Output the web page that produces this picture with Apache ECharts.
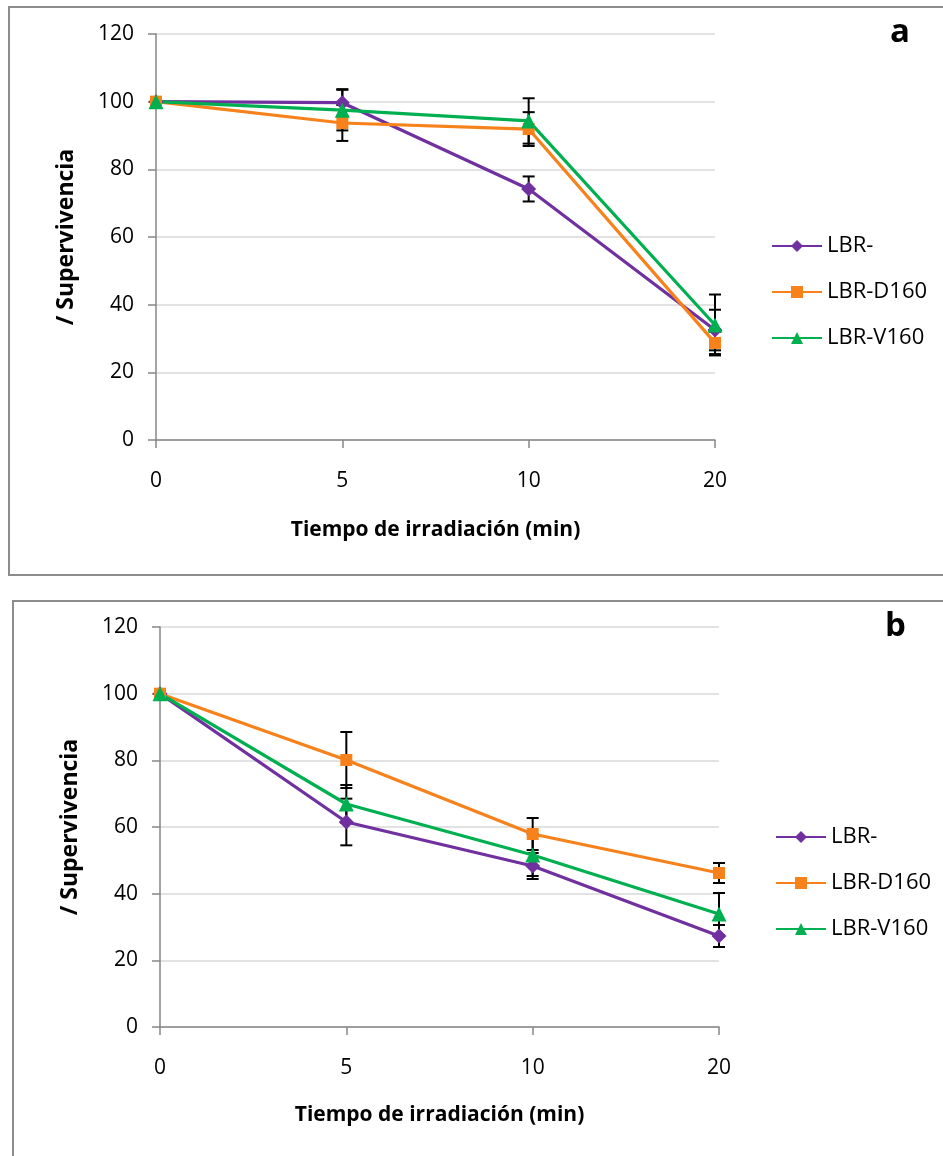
<!DOCTYPE html>
<html><head><meta charset="utf-8">
<script src="https://cdn.jsdelivr.net/npm/echarts@6/dist/echarts.min.js"></script>
<style>html,body{margin:0;padding:0;background:#fff}#c{width:943px;height:1156px}</style>
</head><body><div id="c"></div>
<script>
const categories = ['0', '5', '10', '20'];
const seriesNames = ['LBR-', 'LBR-D160', 'LBR-V160'];
const yTicks = [0, 20, 40, 60, 80, 100, 120];
// Panel a
const a_LBR = [100, 99.7, 74.2, 32.5];
const a_D160 = [100, 93.7, 91.9, 28.7];
const a_V160 = [100, 97.5, 94.3, 34.0];
const a_errLBR = [0, 4, 3.7, 6];
const a_errD160 = [0, 5.3, 5, 3.3];
const a_errV160 = [0, 6, 6.7, 9];
// Panel b
const b_LBR = [100, 61.5, 48.3, 27.3];
const b_D160 = [100, 80.1, 57.9, 46.2];
const b_V160 = [100, 66.9, 51.6, 33.9];
const b_errLBR = [0, 7, 3.9, 3.3];
const b_errD160 = [0, 8.4, 4.8, 3];
const b_errV160 = [0, 5.7, 6.3, 6.3];

const FONT = 'Open Sans';
const colors = ['#7030A0', '#F7821B', '#00B050'];
const symbols = ['diamond', 'rect', 'triangle'];
const symSizes = [15, 12, 15];

function errData(vals, errs) {
  return vals.map((v, i) => [i, v - errs[i], v + errs[i]]);
}
function errSeries(idx, data) {
  return {
    type: 'custom', xAxisIndex: idx, yAxisIndex: idx, z: 1, silent: true,
    renderItem: function (params, api) {
      const lo = api.coord([api.value(0), api.value(1)]);
      const hi = api.coord([api.value(0), api.value(2)]);
      const w = 6;
      const st = { stroke: '#000', lineWidth: 2 };
      return { type: 'group', children: [
        { type: 'line', shape: { x1: lo[0], y1: lo[1], x2: hi[0], y2: hi[1] }, style: st },
        { type: 'line', shape: { x1: lo[0] - w, y1: lo[1], x2: lo[0] + w, y2: lo[1] }, style: st },
        { type: 'line', shape: { x1: hi[0] - w, y1: hi[1], x2: hi[0] + w, y2: hi[1] }, style: st }
      ]};
    },
    data: data
  };
}
function lineSeries(idx, k, vals) {
  return {
    name: seriesNames[k], type: 'line', xAxisIndex: idx, yAxisIndex: idx, z: 3,
    data: vals, symbol: symbols[k], symbolSize: symSizes[k], showSymbol: true,
    lineStyle: { color: colors[k], width: 3.2 },
    itemStyle: { color: colors[k] }
  };
}
function xAxis(idx, gap) {
  return {
    type: 'category', gridIndex: idx, data: categories, boundaryGap: false,
    axisLine: { lineStyle: { color: '#868686', width: 1.5 } },
    axisTick: { show: true, length: 8, alignWithLabel: true, lineStyle: { color: '#868686', width: 1.5 } },
    axisLabel: { color: '#000', fontFamily: FONT, fontSize: 21, margin: 31 },
    name: 'Tiempo de irradiación (min)', nameLocation: 'middle', nameGap: gap,
    nameTextStyle: { color: '#000', fontFamily: FONT, fontWeight: 'bold', fontSize: 21 }
  };
}
function yAxis(idx) {
  return {
    type: 'value', gridIndex: idx, min: 0, max: 120, interval: 20,
    axisLine: { show: true, lineStyle: { color: '#868686', width: 1.5 } },
    axisTick: { show: true, length: 8, lineStyle: { color: '#868686', width: 1.5 } },
    axisLabel: { color: '#000', fontFamily: FONT, fontSize: 21, margin: 22 },
    splitLine: { lineStyle: { color: '#D9D9D9', width: 1.5 } },
    name: '/ Supervivencia', nameLocation: 'middle', nameGap: 78,
    nameTextStyle: { color: '#000', fontFamily: FONT, fontWeight: 'bold', fontSize: 23 }
  };
}
function legend(top, left) {
  return {
    orient: 'vertical', left: left, top: top, itemWidth: 50, itemHeight: 15, itemGap: 24,
    data: seriesNames, textStyle: { color: '#000', fontFamily: FONT, fontSize: 22 },
    selectedMode: false
  };
}

const chart = echarts.init(document.getElementById('c'), null, { renderer: 'canvas' });
chart.setOption({
  animation: false,
  graphic: [
    { type: 'rect', shape: { x: 9, y: 7, width: 960, height: 568 }, style: { fill: 'none', stroke: '#8C8C8C', lineWidth: 2 }, z: -10 },
    { type: 'rect', shape: { x: 13, y: 601, width: 960, height: 600 }, style: { fill: 'none', stroke: '#8C8C8C', lineWidth: 2 }, z: -10 }
  ],
  title: [
    { text: 'a', left: 885, top: 11, textStyle: { fontFamily: FONT, fontWeight: 'bold', fontSize: 33, color: '#000' } },
    { text: 'b', left: 880, top: 605, textStyle: { fontFamily: FONT, fontWeight: 'bold', fontSize: 33, color: '#000' } }
  ],
  grid: [
    { left: 156, top: 34, width: 559, height: 406 },
    { left: 160, top: 627, width: 559, height: 400 }
  ],
  xAxis: [xAxis(0, 80), xAxis(1, 78)],
  yAxis: [yAxis(0), yAxis(1)],
  legend: [legend(230, 766), legend(821, 770)],
  series: [
    errSeries(0, errData(a_LBR, a_errLBR)),
    errSeries(0, errData(a_D160, a_errD160)),
    errSeries(0, errData(a_V160, a_errV160)),
    lineSeries(0, 0, a_LBR),
    lineSeries(0, 1, a_D160),
    lineSeries(0, 2, a_V160),
    errSeries(1, errData(b_LBR, b_errLBR)),
    errSeries(1, errData(b_D160, b_errD160)),
    errSeries(1, errData(b_V160, b_errV160)),
    lineSeries(1, 0, b_LBR),
    lineSeries(1, 1, b_D160),
    lineSeries(1, 2, b_V160)
  ]
});
</script>
</body></html>
